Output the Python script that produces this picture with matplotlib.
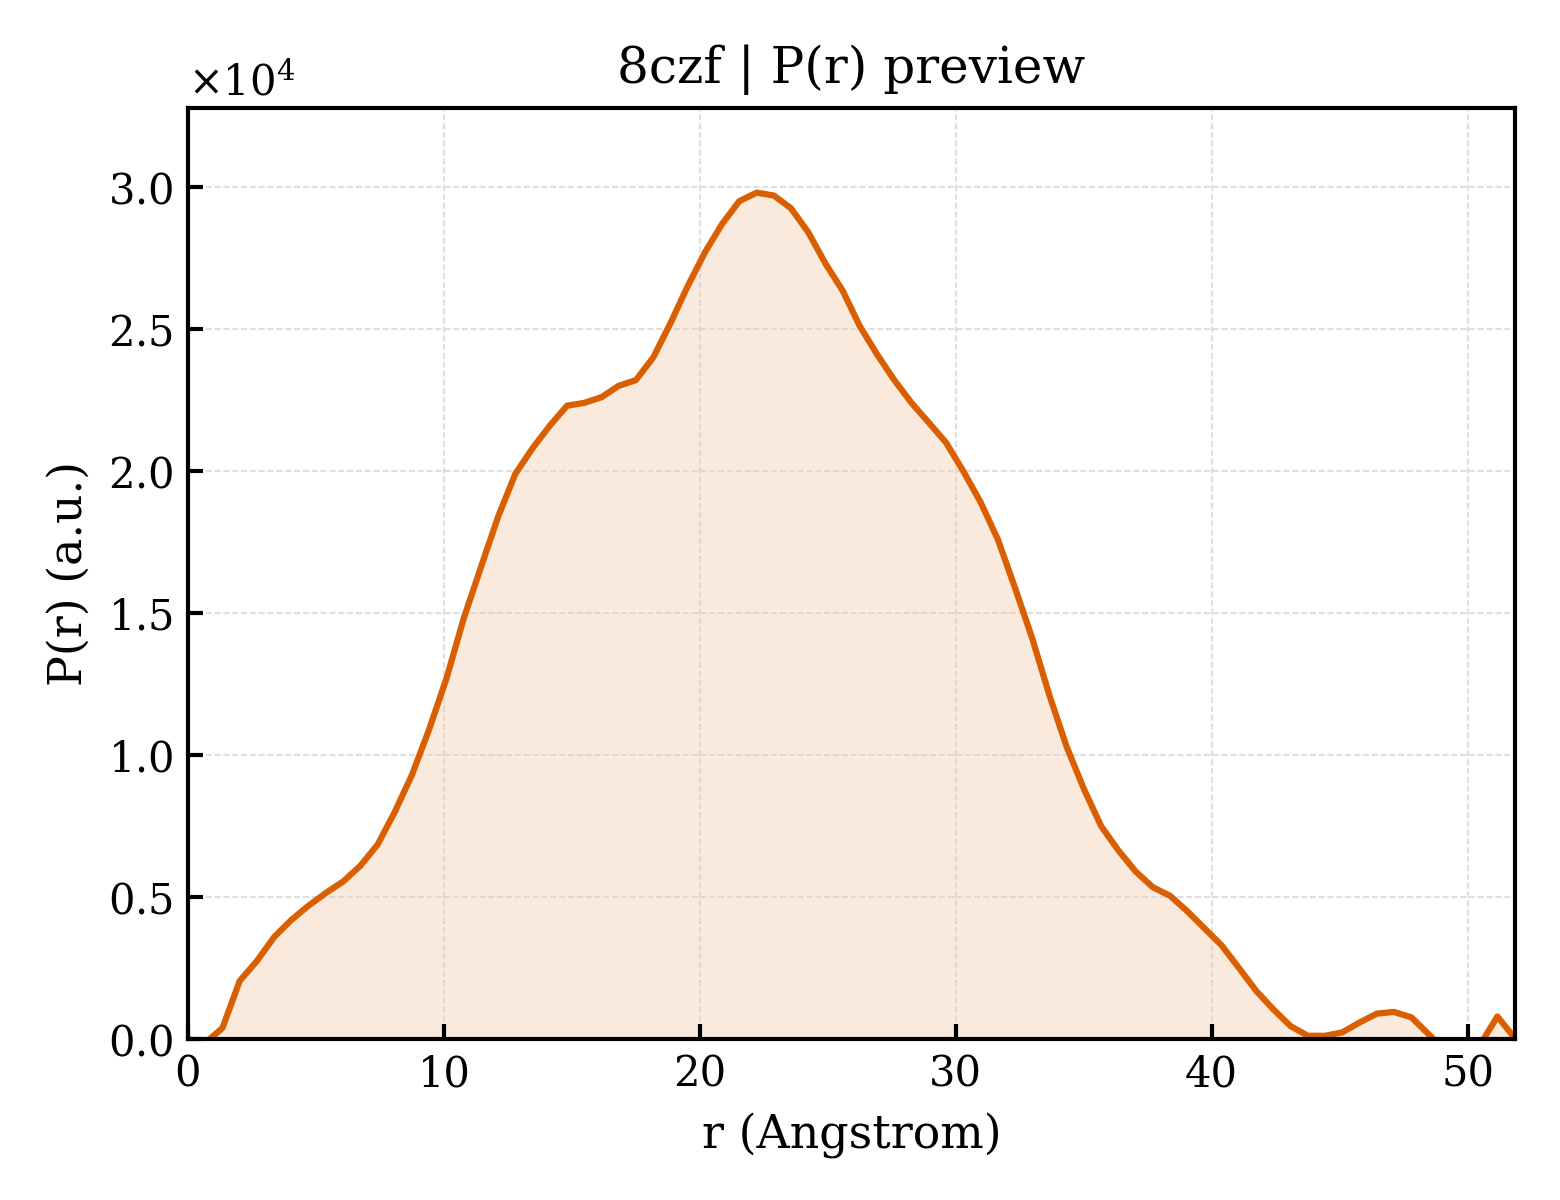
import matplotlib
matplotlib.use("Agg")
import matplotlib.pyplot as plt

plt.rcParams.update({
    "font.family": "DejaVu Serif",
    "mathtext.fontset": "dejavuserif",
    "font.size": 10,
})

r = [0.00, 0.67, 1.35, 2.02, 2.69, 3.37, 4.04, 4.71, 5.39, 6.06,
     6.73, 7.41, 8.08, 8.75, 9.42, 10.10, 10.77, 11.44, 12.12, 12.79,
     13.46, 14.14, 14.81, 15.48, 16.16, 16.83, 17.50, 18.18, 18.85, 19.52,
     20.20, 20.87, 21.54, 22.22, 22.89, 23.56, 24.24, 24.91, 25.58, 26.25,
     26.93, 27.60, 28.27, 28.95, 29.62, 30.29, 30.97, 31.64, 32.31, 32.99,
     33.66, 34.33, 35.01, 35.68, 36.35, 37.03, 37.70, 38.37, 39.05, 39.72,
     40.39, 41.07, 41.74, 42.41, 43.08, 43.76, 44.43, 45.10, 45.78, 46.45,
     47.12, 47.80, 48.47, 49.14, 49.82, 50.49, 51.16, 51.84]
pr = [0, -140, 400, 2050, 2750, 3600, 4200, 4700, 5150, 5550,
      6100, 6850, 8000, 9300, 10900, 12700, 14800, 16600, 18400, 19900,
      20800, 21600, 22300, 22400, 22600, 23000, 23200, 24000, 25200, 26500,
      27700, 28700, 29500, 29800, 29700, 29250, 28400, 27300, 26350, 25100,
      24100, 23200, 22400, 21700, 21000, 20000, 18900, 17600, 15900, 14100,
      12100, 10300, 8800, 7500, 6650, 5900, 5350, 5050, 4500, 3900,
      3300, 2500, 1700, 1050, 460, 120, 120, 240, 590, 900,
      960, 770, 180, -420, -500, -190, 800, 40]

fig, ax = plt.subplots(figsize=(5.2, 4), dpi=300)
fig.subplots_adjust(left=0.1205, right=0.971, top=0.91, bottom=0.134)

ax.fill_between(r, pr, 0, color="#D95F02", alpha=0.13, linewidth=0)
ax.plot(r, pr, color="#D95F02", lw=1.5)

ax.set_xlim(0, max(r))
ax.set_ylim(0, max(pr) * 1.1)
ax.set_xlabel("r (Angstrom)", fontsize=11)
ax.set_ylabel("P(r) (a.u.)", fontsize=11)
ax.set_title("8czf | P(r) preview", fontsize=12)

ax.ticklabel_format(style="sci", axis="y", scilimits=(0, 0), useMathText=True)
ax.tick_params(direction="in", width=1.0, length=3.5, labelsize=10)
for s in ax.spines.values():
    s.set_linewidth(1.0)
ax.grid(True, linestyle="--", linewidth=0.4, color="#d0d0d0", alpha=0.8)

fig.savefig("out.png", dpi=300)
